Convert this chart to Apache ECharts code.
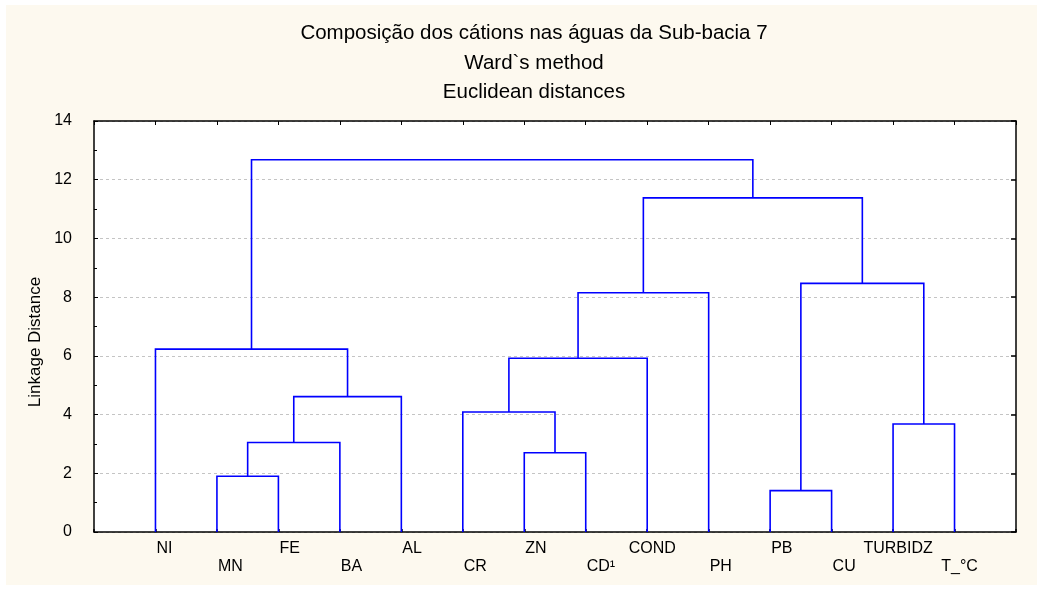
<!DOCTYPE html>
<html>
<head>
<meta charset="utf-8">
<script src="https://cdn.jsdelivr.net/npm/echarts@6/dist/echarts.min.js"></script>
<style>
html,body{margin:0;padding:0;background:#fff;}
#chart{width:1042px;height:590px;}
</style>
</head>
<body>
<div id="chart"></div>
<script>
// ---- data ----
const titleLines = ['Composição dos cátions nas águas da Sub-bacia 7', 'Ward`s method', 'Euclidean distances'];
const yAxisName = 'Linkage Distance';
const leaves = ['NI', 'MN', 'FE', 'BA', 'AL', 'CR', 'ZN', 'CD¹', 'COND', 'PH', 'PB', 'CU', 'TURBIDZ', 'T_°C'];
// merges in order of linkage: children are leaf names or '#k' (k-th merge)
const mergeLeft   = ['PB', 'MN', 'ZN',  '#1', 'TURBIDZ', 'CR', '#3', '#5',   'NI', '#7', '#0', '#9', '#8'];
const mergeRight  = ['CU', 'FE', 'CD¹', 'BA', 'T_°C',    '#2', 'AL', 'COND', '#6', 'PH', '#4', '#10', '#11'];
const mergeHeight = [1.41, 1.90, 2.70, 3.05, 3.68, 4.09, 4.61, 5.92, 6.23, 8.15, 8.47, 11.38, 12.68];
const yTicks = [0, 2, 4, 6, 8, 10, 12, 14];

// ---- build dendrogram segments ----
const nodeX = {}, nodeH = {};
leaves.forEach((n, i) => { nodeX[n] = i + 1; nodeH[n] = 0; });
const links = [];
mergeHeight.forEach((h, k) => {
  const a = mergeLeft[k], b = mergeRight[k];
  links.push([nodeX[a], nodeH[a], nodeX[b], nodeH[b], h]);
  nodeX['#' + k] = (nodeX[a] + nodeX[b]) / 2;
  nodeH['#' + k] = h;
});

const FONT = '"Liberation Sans", Arial, sans-serif';
const LABEL_SIZE = 16;
const ctx = document.createElement('canvas').getContext('2d');
ctx.font = LABEL_SIZE + 'px "Liberation Sans", Arial, sans-serif';

const chart = echarts.init(document.getElementById('chart'), null, {renderer: 'canvas'});
const axisLineStyle = {color: '#000', width: 1.5};
chart.setOption({
  animation: false,
  backgroundColor: '#ffffff',
  graphic: [
    {type: 'rect', z: -10, shape: {x: 6, y: 5, width: 1031, height: 580}, style: {fill: '#fdf9ef'}},
    {type: 'rect', z: -9, shape: {x: 94, y: 121, width: 922, height: 411}, style: {fill: '#ffffff'}},
    {type: 'text', x: 35, y: 342, rotation: Math.PI / 2,
     style: {text: yAxisName, font: '17px ' + FONT, fill: '#000', align: 'center', verticalAlign: 'middle'}}
  ],
  title: {
    text: titleLines.join('\n'),
    left: 529, top: 14, textAlign: 'center',
    textStyle: {fontFamily: FONT, fontSize: 20.5, fontWeight: 'normal', color: '#000', lineHeight: 29.5}
  },
  grid: {left: 94, right: 26, top: 121, bottom: 58, containLabel: false},
  xAxis: [
    {type: 'value', min: 0, max: leaves.length + 1, interval: 1, position: 'bottom',
     axisLine: {onZero: false, lineStyle: axisLineStyle},
     axisTick: {inside: true, length: 3, lineStyle: {color: '#000', width: 1.5}},
     axisLabel: {show: false}, splitLine: {show: false}},
    {type: 'value', min: 0, max: leaves.length + 1, interval: 1, position: 'top',
     axisLine: {onZero: false, lineStyle: axisLineStyle},
     axisTick: {inside: true, length: 4, lineStyle: {color: '#000', width: 1}},
     axisLabel: {show: false}, splitLine: {show: false}}
  ],
  yAxis: [
    {type: 'value', min: yTicks[0], max: yTicks[yTicks.length - 1], interval: 2, position: 'left',
     axisLine: {show: true, onZero: false, lineStyle: axisLineStyle},
     axisTick: {show: true, inside: true, length: 4, lineStyle: {color: '#000', width: 1}},
     minorTick: {show: true, splitNumber: 2, length: 3, lineStyle: {color: '#000', width: 1}},
     axisLabel: {margin: 22, fontFamily: FONT, fontSize: 16, color: '#000'},
     splitLine: {show: true, lineStyle: {color: '#c4c4c4', type: [3, 3], width: 1}}},
    {type: 'value', min: yTicks[0], max: yTicks[yTicks.length - 1], interval: 2, position: 'right',
     axisLine: {show: true, onZero: false, lineStyle: axisLineStyle},
     axisTick: {show: true, inside: true, length: 5, lineStyle: {color: '#000', width: 1.5}},
     axisLabel: {show: false}, splitLine: {show: false}}
  ],
  series: [
    {
      type: 'custom', name: 'dendrogram', clip: false,
      xAxisIndex: 0, yAxisIndex: 0,
      data: links,
      encode: {x: [0, 2], y: [1, 3, 4]},
      renderItem: function (params, api) {
        const p1 = api.coord([api.value(0), api.value(1)]);
        const p2 = api.coord([api.value(0), api.value(4)]);
        const p3 = api.coord([api.value(2), api.value(4)]);
        const p4 = api.coord([api.value(2), api.value(3)]);
        return {type: 'polyline', shape: {points: [p1, p2, p3, p4]},
                style: {stroke: '#0000ff', lineWidth: 1.6, fill: null}};
      }
    },
    {
      type: 'custom', name: 'leafLabels', clip: false, silent: true,
      xAxisIndex: 0, yAxisIndex: 0,
      data: leaves.map((n, i) => [i + 1, 0]),
      renderItem: function (params, api) {
        const i = params.dataIndex;
        const text = leaves[i];
        const p = api.coord([api.value(0), 0]);
        const w = ctx.measureText(text).width;
        const left = w < 32 ? p[0] + 1 : p[0] + 5 - w / 2;
        return {type: 'text', x: left, y: p[1] + (i % 2 === 0 ? 17 : 35),
                style: {text: text, font: LABEL_SIZE + 'px ' + FONT, fill: '#000', align: 'left', verticalAlign: 'middle'}};
      }
    }
  ]
});
</script>
</body>
</html>
